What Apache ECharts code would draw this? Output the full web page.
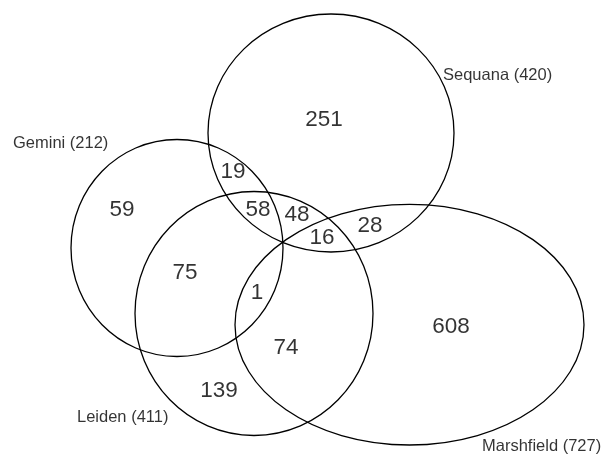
<!DOCTYPE html>
<html>
<head>
<meta charset="utf-8">
<script src="https://cdn.jsdelivr.net/npm/echarts@6/dist/echarts.min.js"></script>
<style>
html,body{margin:0;padding:0;background:#fff;}
#chart{width:609px;height:454px;}
</style>
</head>
<body>
<div id="chart"></div>
<script>
// ---- data ----
const setNames = ['Sequana', 'Gemini', 'Leiden', 'Marshfield'];
const setTotals = [420, 212, 411, 727];
const regionNames = [
  'Sequana only', 'Gemini & Sequana', 'Gemini only', 'Gemini & Sequana & Leiden',
  'Sequana & Leiden', 'Sequana & Leiden & Marshfield', 'Sequana & Marshfield',
  'Gemini & Leiden', 'Gemini & Leiden & Marshfield', 'Leiden & Marshfield',
  'Marshfield only', 'Leiden only'
];
const regionCounts = [251, 19, 59, 58, 48, 16, 28, 75, 1, 74, 608, 139];

// ---- layout (drawing units = pixels of the 609x454 canvas) ----
const setShapes = [ // [cx, cy, rx, ry]
  [331, 133, 123, 119],
  [177, 248, 106, 108.5],
  [254, 313.5, 119, 122],
  [409.5, 324.7, 174.5, 120.3]
];
const setLabelPos = [[443, 75], [13, 143], [77, 417], [482, 446]];
const regionPos = [
  [324, 120], [233, 172], [122, 210], [258, 210], [297, 215], [322, 238],
  [370, 226], [185, 273], [257, 293], [286, 348], [451, 327], [219, 391]
];

const font = '"Liberation Sans", Arial, Helvetica, sans-serif';

const chart = echarts.init(document.getElementById('chart'), null, {renderer: 'canvas'});
chart.setOption({
  animation: false,
  backgroundColor: '#ffffff',
  grid: {left: 0, right: 0, top: 0, bottom: 0},
  xAxis: {type: 'value', min: 0, max: 609, show: false},
  yAxis: {type: 'value', min: 0, max: 454, inverse: true, show: false},
  series: [
    {
      type: 'custom',
      coordinateSystem: 'cartesian2d',
      silent: true,
      data: setShapes.map((s, i) => ({name: setNames[i], value: s})),
      renderItem: function (params, api) {
        const c = api.coord([api.value(0), api.value(1)]);
        const sz = api.size([api.value(2), api.value(3)]);
        return {
          type: 'ellipse',
          shape: {cx: c[0], cy: c[1], rx: sz[0], ry: sz[1]},
          style: {fill: 'none', stroke: '#000', lineWidth: 1.3}
        };
      }
    },
    {
      type: 'scatter',
      silent: true,
      symbolSize: 0,
      itemStyle: {color: '#000'},
      data: regionCounts.map((v, i) => ({name: regionNames[i], value: [regionPos[i][0], regionPos[i][1], v]})),
      label: {
        show: true,
        position: 'inside',
        formatter: p => String(p.value[2]),
        color: '#000',
        textBorderWidth: 0,
        fontSize: 22.5,
        fontFamily: font,
        align: 'center',
        verticalAlign: 'middle'
      }
    },
    {
      type: 'scatter',
      silent: true,
      symbolSize: 0,
      itemStyle: {color: '#000'},
      data: setNames.map((n, i) => ({name: n, value: [setLabelPos[i][0], setLabelPos[i][1], setTotals[i]]})),
      label: {
        show: true,
        position: 'inside',
        formatter: p => p.name + ' (' + p.value[2] + ')',
        color: '#000',
        textBorderWidth: 0,
        fontSize: 16.5,
        fontFamily: font,
        align: 'left',
        verticalAlign: 'middle'
      }
    }
  ]
});
</script>
</body>
</html>
